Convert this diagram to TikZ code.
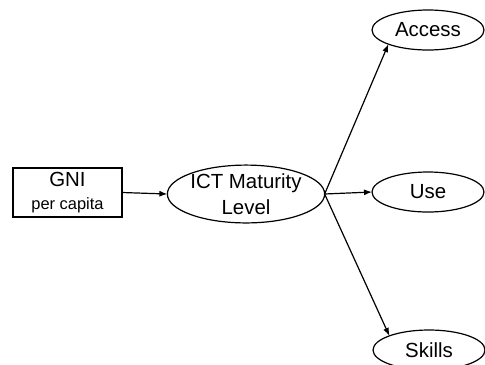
\documentclass[tikz,border=0pt]{standalone}
\usepackage{fontspec}
\setmainfont{Liberation Sans}
\usetikzlibrary{shapes.geometric,arrows.meta}
\begin{document}
\begin{tikzpicture}[x=1bp,y=-1bp,line width=1.2bp,
  oval/.style={ellipse,draw,inner sep=0pt,outer sep=0pt,
    font=\fontsize{20.5}{26}\selectfont,align=center},
  smalloval/.style={oval,minimum width=112bp,minimum height=40bp},
  box/.style={rectangle,draw,inner sep=0pt,outer sep=0pt,
    minimum width=109bp,minimum height=49bp,align=center,
    font=\fontsize{16.5}{23}\selectfont},
  link/.style={-{Latex[length=8bp,width=6bp]}}]
% page frame; the lowest oval runs off the bottom edge
\clip (0,0) rectangle (485,364);

% input box and the central construct
\node[box] (gni) at (67.5,192.5)
  {{\fontsize{20.5}{23}\selectfont GNI}\\per capita};
\node[oval,minimum width=152bp,minimum height=52bp] (ict) at (246,194)
  {ICT Maturity\\Level};

% outcome ovals
\node[smalloval] (access) at (428,30) {Access};
\node[smalloval] (use) at (428,192) {Use};
\node[smalloval] (skills) at (429,350) {Skills};

% connectors
\draw[link] (gni.east) -- (ict.west);
\draw[link] (ict.east) -- (access.south west);
\draw[link] (ict.east) -- (use.west);
\draw[link] (ict.east) -- (skills.north west);
\end{tikzpicture}
\end{document}
